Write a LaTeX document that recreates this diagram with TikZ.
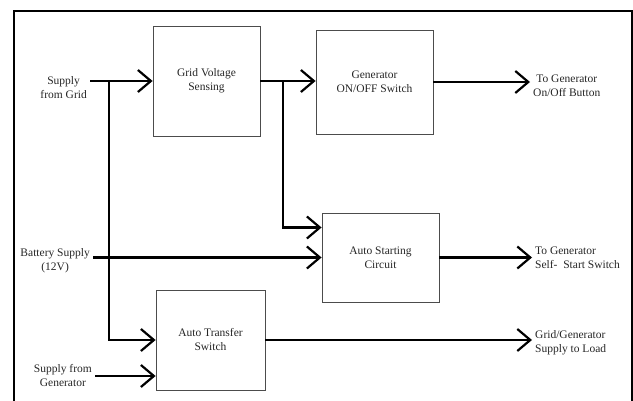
\documentclass[tikz,border=0pt]{standalone}
\usepackage{fontspec}
\setmainfont{Liberation Serif}
\usetikzlibrary{arrows.meta}

\begin{document}
\begin{tikzpicture}[x=1pt,y=-1pt,>={Straight Barb[length=13pt,width=22pt]},
  bloc/.style={draw=black!70,line width=0.8pt,align=center,text=black!85,%
               font=\fontsize{11.5}{14}\selectfont},
  etiq/.style={inner sep=3pt,text=black!85,font=\fontsize{11.5}{14}\selectfont},
  fleche/.style={->,line width=2.2pt}]
\useasboundingbox (0,0) rectangle (633,401);
% le cadre
\draw[line width=1.5pt] (14,401) -- (14,11) -- (632,11) -- (632,401);

% les blocs
\node[bloc,minimum width=107pt,minimum height=110pt] (gvs) at (206.5,81) {Grid Voltage\\Sensing};
\node[bloc,minimum width=117pt,minimum height=104pt] (onoff) at (374.5,82) {Generator\\ON/OFF Switch};
\node[bloc,minimum width=117pt,minimum height=89pt] (asc) at (380.5,257.5) {Auto Starting\\Circuit};
\node[bloc,minimum width=109pt,minimum height=100pt] (ats) at (210.5,340) {Auto Transfer\\Switch};

% les entrees
\node[etiq,anchor=east,align=center] (grid) at (90,88) {Supply\\from Grid};
\node[etiq,anchor=east,align=center] (bat) at (93,261) {Battery Supply\\(12V)};
\node[etiq,anchor=east,align=center] (gen) at (95,376) {Supply from\\Generator};

% les sorties
\node[etiq,anchor=west,align=center] (btn) at (530,86) {To Generator\\On/Off Button};
\node[etiq,anchor=west,align=left] (self) at (532,258) {To Generator\\Self-\ \ Start Switch};
\node[etiq,anchor=west,align=left] (load) at (532,343) {Grid/Generator\\Supply to Load};

% les fleches
\coordinate (jg) at (109,81);
\coordinate (jv) at (283,81);
\draw[fleche] (grid.east |- gvs.west) -- (gvs.west);
\draw[fleche] (jg) |- (ats.west);
\draw[fleche] (gvs.east) -- (gvs.east -| onoff.west);
\draw[fleche] (jv) |- ([yshift=30pt]asc.west);
\draw[fleche] (bat.east |- asc.west) -- (asc.west);
\draw[fleche] (gen.east) -- (gen.east -| ats.west);
\draw[fleche] (onoff.east) -- (onoff.east -| btn.west);
\draw[fleche] (asc.east) -- (asc.east -| self.west);
\draw[fleche] (ats.east) -- (ats.east -| load.west);

\end{tikzpicture}
\end{document}
